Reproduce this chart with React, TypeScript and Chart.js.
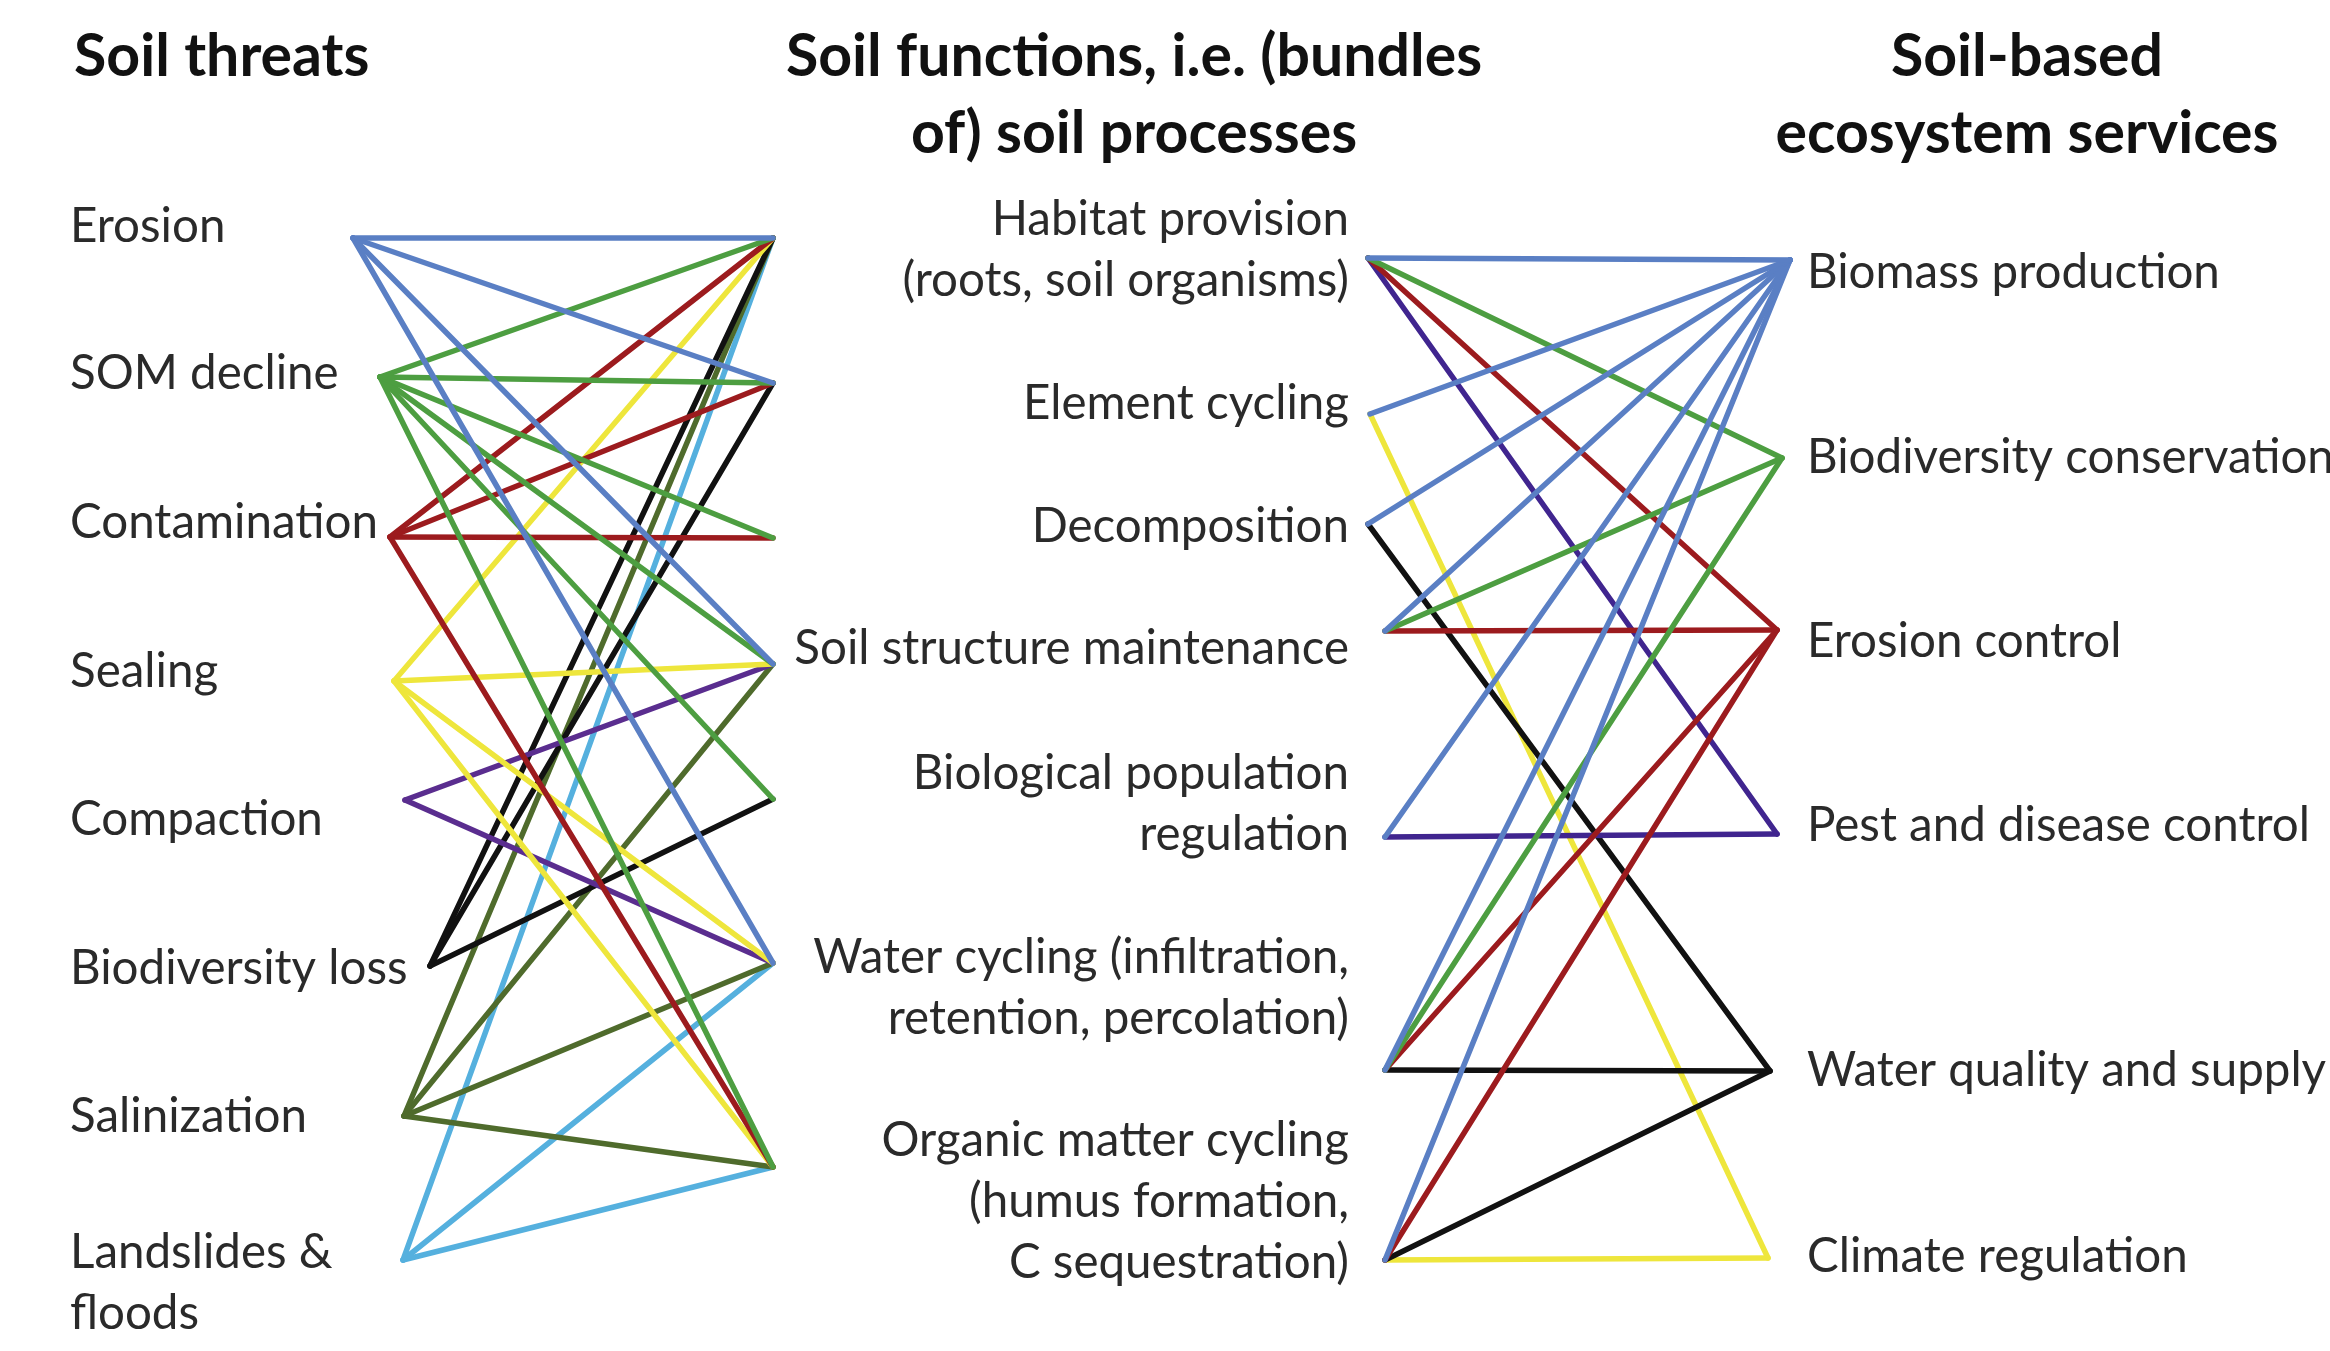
import React, { useEffect, useRef } from "react";
import { Chart, registerables } from "chart.js";

Chart.register(...registerables);

// ---------- data ----------
const headerThreats = ["Soil threats"];
const headerFunctions = ["Soil functions, i.e. (bundles", "of) soil processes"];
const headerServices = ["Soil-based", "ecosystem services"];

const threats = [
  ["Erosion"],
  ["SOM decline"],
  ["Contamination"],
  ["Sealing"],
  ["Compaction"],
  ["Biodiversity loss"],
  ["Salinization"],
  ["Landslides &", "floods"],
];

const functions = [
  ["Habitat provision", "(roots, soil organisms)"],
  ["Element cycling"],
  ["Decomposition"],
  ["Soil structure maintenance"],
  ["Biological population", "regulation"],
  ["Water cycling (infiltration,", "retention, percolation)"],
  ["Organic matter cycling", "(humus formation,", "C sequestration)"],
];

const services = [
  ["Biomass production"],
  ["Biodiversity conservation"],
  ["Erosion control"],
  ["Pest and disease control"],
  ["Water quality and supply"],
  ["Climate regulation"],
];

// links: threat index -> list of function indices
const threatLinks = [
  [0, 1, 3, 5],
  [0, 1, 2, 3, 4, 6],
  [0, 1, 2, 6],
  [0, 3, 5, 6],
  [3, 5],
  [0, 1, 4],
  [0, 3, 5, 6],
  [0, 5, 6],
];

// links: service index -> list of function indices
const serviceLinks = [
  [0, 1, 2, 3, 4, 5, 6],
  [0, 3, 5],
  [0, 3, 5, 6],
  [0, 4],
  [2, 5, 6],
  [1, 6],
];

// ---------- styles / layout ----------
const threatColors = ["#5a7fc4", "#4d9e41", "#9c1b1e", "#eee63c", "#5a2d8f", "#111111", "#4f6b2c", "#55b0de"];
const serviceColors = ["#5a7fc4", "#4d9e41", "#9c1b1e", "#40258f", "#111111", "#eee63c"];

const W = 2330;
const H = 1351;
const threatAnchorX = [353, 380, 390, 394, 405, 430, 404, 403];
const threatAnchorY = [238, 377, 537, 681, 800, 966, 1116, 1260];
const funcLeftX = 773;
const funcLeftY = [238, 383, 538, 664, 799, 963, 1167];
const funcRightX = [1368, 1370, 1368, 1385, 1385, 1385, 1385];
const funcRightY = [258, 414, 524, 631, 837, 1070, 1260];
const servAnchorX = [1790, 1782, 1777, 1777, 1770, 1768];
const servAnchorY = [260, 458, 630, 834, 1071, 1258];

const threatLabelX = 70;
const threatLabelY = [227, 374, 523, 672, 820, 969, 1117, 1253];
const funcLabelX = 1349;
const funcLabelY = [220, 404, 527, 649, 774, 958, 1141];
const servLabelX = 1807;
const servLabelY = [273, 458, 642, 826, 1071, 1257];
const lineGap = 61;

const FONT = "Lato, 'Open Sans', sans-serif";
const LABEL_SIZE = 47.5;
const HEAD_SIZE = 59;
const LINE_W = 5.5;

export default function App() {
  const ref = useRef<HTMLCanvasElement | null>(null);

  useEffect(() => {
    const canvas = ref.current;
    if (!canvas) return;

    const datasets: any[] = [];
    threatLinks.forEach((fs, t) => {
      fs.forEach((f) => {
        datasets.push({
          data: [
            { x: threatAnchorX[t], y: threatAnchorY[t] },
            { x: funcLeftX, y: funcLeftY[f] },
          ],
          borderColor: threatColors[t],
          borderWidth: LINE_W,
          showLine: true,
          pointRadius: 0,
          borderCapStyle: "round",
        });
      });
    });
    serviceLinks.forEach((fs, s) => {
      fs.forEach((f) => {
        datasets.push({
          data: [
            { x: funcRightX[f], y: funcRightY[f] },
            { x: servAnchorX[s], y: servAnchorY[s] },
          ],
          borderColor: serviceColors[s],
          borderWidth: LINE_W,
          showLine: true,
          pointRadius: 0,
          borderCapStyle: "round",
        });
      });
    });

    const labelPlugin = {
      id: "labels",
      afterDatasetsDraw(chart: any) {
        const ctx = chart.ctx as CanvasRenderingContext2D;
        const sx = chart.scales.x;
        const sy = chart.scales.y;
        const px = (v: number) => sx.getPixelForValue(v);
        const py = (v: number) => sy.getPixelForValue(v);
        ctx.save();
        ctx.textBaseline = "middle";

        // headers
        ctx.fillStyle = "#111111";
        ctx.font = `bold ${HEAD_SIZE}px ${FONT}`;
        ctx.textAlign = "left";
        ctx.fillText(headerThreats[0], px(74), py(57));
        ctx.textAlign = "center";
        headerFunctions.forEach((l, i) => ctx.fillText(l, px(1134), py(57 + i * 77)));
        headerServices.forEach((l, i) => ctx.fillText(l, px(2027), py(57 + i * 77)));

        ctx.fillStyle = "#2a2a2a";
        ctx.font = `${LABEL_SIZE}px ${FONT}`;
        ctx.textAlign = "left";
        threats.forEach((lines, i) =>
          lines.forEach((l, j) => ctx.fillText(l, px(threatLabelX), py(threatLabelY[i] + j * lineGap)))
        );
        ctx.textAlign = "right";
        functions.forEach((lines, i) =>
          lines.forEach((l, j) => ctx.fillText(l, px(funcLabelX), py(funcLabelY[i] + j * lineGap)))
        );
        ctx.textAlign = "left";
        services.forEach((lines, i) =>
          lines.forEach((l, j) => ctx.fillText(l, px(servLabelX), py(servLabelY[i] + j * lineGap)))
        );
        ctx.restore();
      },
    };

    const chart = new Chart(canvas, {
      type: "scatter",
      data: { datasets },
      options: {
        animation: false,
        responsive: false,
        maintainAspectRatio: false,
        devicePixelRatio: 1,
        layout: { padding: 0 },
        events: [],
        plugins: { legend: { display: false }, tooltip: { enabled: false } },
        scales: {
          x: { type: "linear", min: 0, max: W, display: false },
          y: { type: "linear", min: 0, max: H, reverse: true, display: false },
        },
      },
      plugins: [labelPlugin],
    });
    return () => chart.destroy();
  }, []);

  return (
    <div style={{ position: "fixed", left: 0, top: 0, width: W, height: H, background: "#ffffff" }}>
      <canvas ref={ref} width={W} height={H} style={{ width: W, height: H, display: "block" }} />
    </div>
  );
}
